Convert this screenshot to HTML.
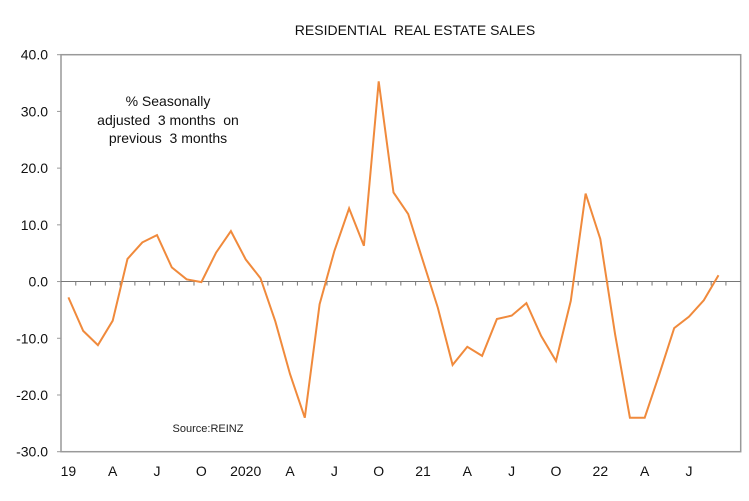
<!DOCTYPE html>
<html><head><meta charset="utf-8"><style>
html,body{margin:0;padding:0;background:#fff;}
svg{display:block;font-family:"Liberation Sans",Arial,sans-serif;}
</style></head><body>
<svg id="chart" width="749" height="501">
<text x="415" y="35" text-anchor="middle" font-size="14" fill="#111" xml:space="preserve">RESIDENTIAL  REAL ESTATE SALES</text>
<g font-size="14" fill="#111" text-anchor="middle">
<text x="168" y="106" xml:space="preserve">% Seasonally</text>
<text x="168" y="125" xml:space="preserve">adjusted  3 months  on</text>
<text x="168" y="143" xml:space="preserve">previous  3 months</text>
</g>
<text x="208" y="432" text-anchor="middle" font-size="11" fill="#222">Source:REINZ</text>
<g id="axes"></g>
<g id="series"></g>
</svg>
<script>
const values = [-2.8,-8.7,-11.2,-6.9,4.0,6.9,8.2,2.5,0.4,-0.1,5.1,8.9,3.9,0.6,-7.0,-16.3,-24.0,-4.0,5.4,12.9,6.3,35.3,15.7,11.9,3.6,-4.6,-14.7,-11.5,-13.1,-6.6,-6.0,-3.8,-9.6,-14.0,-3.4,15.5,7.5,-9.3,-24.0,-24.0,-16.3,-8.2,-6.2,-3.3,1.1];
const yTicks = [40,30,20,10,0,-10,-20,-30];
const xLabels = ["19","A","J","O","2020","A","J","O","21","A","J","O","22","A","J"];
const xLabelIdx = [0,3,6,9,12,15,18,21,24,27,30,33,36,39,42];
const nSlots = 46;
const L=61,R=740.7,T=54.7,B=451.7,yMin=-30,yMax=40;
const NS="http://www.w3.org/2000/svg";
function x(i){return L+(i+0.5)*(R-L)/nSlots;}
function y(v){return T+(yMax-v)/(yMax-yMin)*(B-T);}
function mk(tag,attrs,parent){const e=document.createElementNS(NS,tag);for(const k in attrs)e.setAttribute(k,attrs[k]);parent.appendChild(e);return e;}
const ax=document.getElementById('axes');
const frame=mk('rect',{x:L,y:T,width:R-L,height:B-T,fill:'none',stroke:'#999','stroke-width':1.5},ax);


const zl=mk('line',{x1:L,x2:R,y1:y(0),y2:y(0),stroke:'#777','stroke-width':1},ax);


for(let i=1;i<nSlots;i++){const xx=L+i*(R-L)/nSlots;const t=mk('line',{x1:xx,x2:xx,y1:y(0),y2:y(0)+4,stroke:'#777','stroke-width':1},ax);

}
yTicks.forEach(v=>{const t=mk('text',{x:48,y:y(v)+5,'text-anchor':'end','font-size':14,fill:'#111'},ax);t.textContent=v.toFixed(1);


const tk=mk('line',{x1:L-4,x2:L,y1:y(v),y2:y(v),stroke:'#999'},ax);

});
xLabels.forEach((s,k)=>{const t=mk('text',{x:x(xLabelIdx[k]),y:476,'text-anchor':'middle','font-size':14,fill:'#111'},ax);t.textContent=s;

});
const pts=values.map((v,i)=>x(i).toFixed(1)+','+y(v).toFixed(1)).join(' ');
const line=mk('polyline',{points:pts,fill:'none',stroke:'#f08a3c','stroke-width':2,'stroke-linejoin':'miter'},document.getElementById('series'));


</script>
</body></html>
